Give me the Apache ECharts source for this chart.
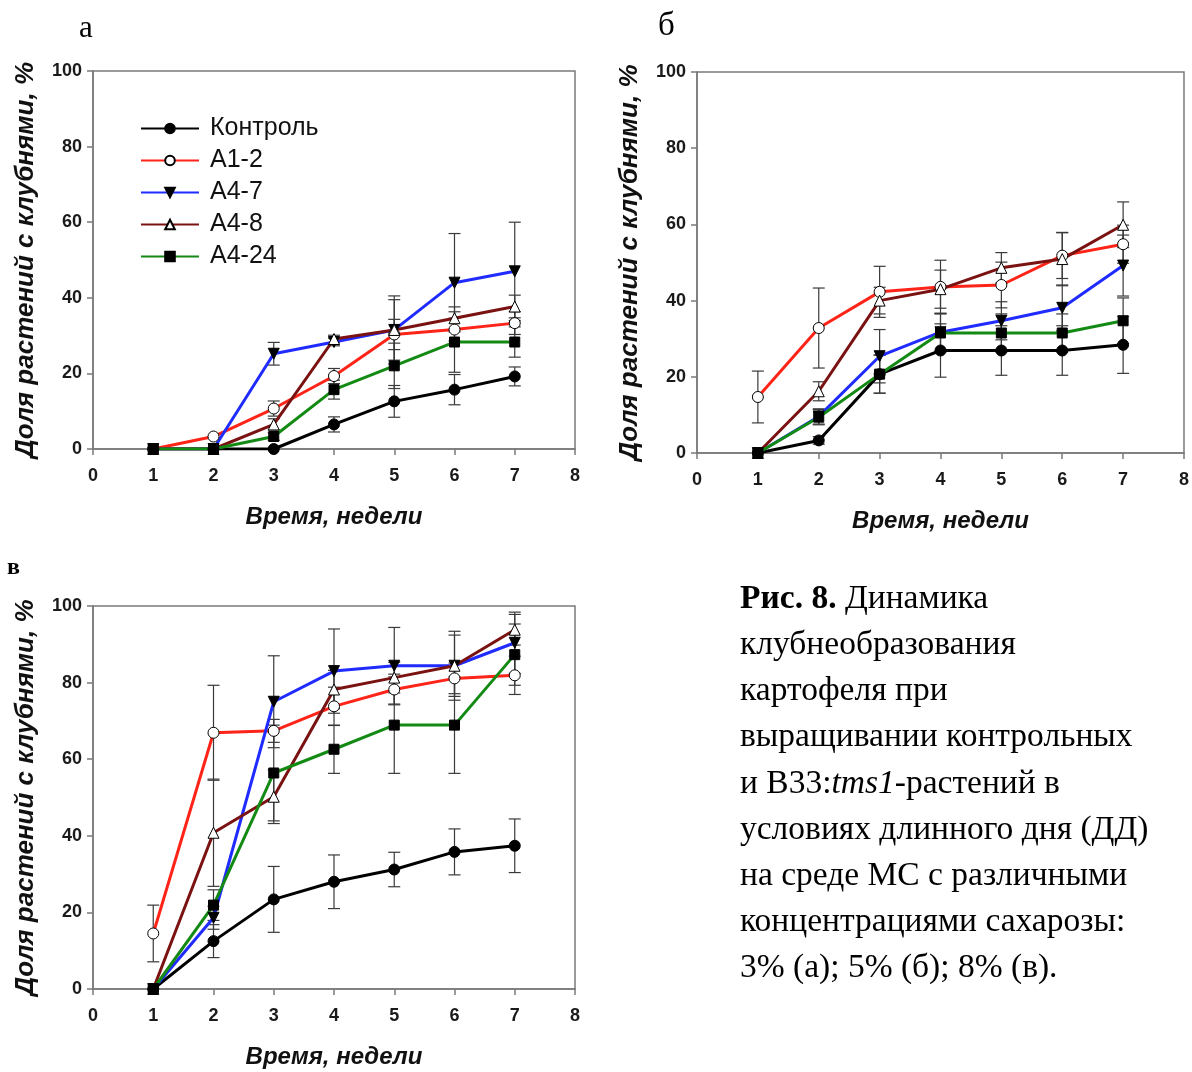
<!DOCTYPE html>
<html>
<head>
<meta charset="utf-8">
<title>Рис. 8</title>
<script src="https://cdn.jsdelivr.net/npm/echarts@6/dist/echarts.min.js"></script>
<style>
    html, body { margin: 0; padding: 0; background: #fff; }
    #chart { width: 1192px; height: 1072px; }
</style>
</head>
<body>
<div id="chart"></div>
<script>
// недели
const weeks = [1, 2, 3, 4, 5, 6, 7]
const xTicks = [0, 8, 1] // min, max, шаг
const yTicks = [0, 100, 20]
const lineNames = ['Контроль', 'А1-2', 'А4-7', 'А4-8', 'А4-24']

// (а) 3% сахарозы
const a_control = [0, 0, 0, 6.5, 12.6, 15.7, 19.2]
const a_a12 = [0, 3.3, 10.7, 19.3, 30.3, 31.6, 33.3]
const a_a47 = [0, 0, 25.2, 28.3, 31.5, 44.0, 47.0]
const a_a48 = [0, 0, 6.5, 29.1, 31.5, 34.6, 37.7]
const a_a424 = [0, 0, 3.3, 15.7, 22.0, 28.3, 28.3]
const a_err_control = [0, 0, 0, 2, 4.2, 4, 2.5]
const a_err_a12 = [0, 0, 2, 2, 4, 3, 3]
const a_err_a47 = [0, 0, 3, 1, 9, 13, 13]
const a_err_a48 = [0, 0, 1.5, 1, 8, 3, 3]
const a_err_a424 = [0, 0, 1, 2.5, 6, 8, 4]

// (б) 5% сахарозы
const b_control = [0, 3.3, 20.7, 26.9, 26.9, 26.9, 28.4]
const b_a12 = [14.7, 32.8, 42.3, 43.6, 44.1, 51.8, 54.8]
const b_a47 = [0, 9.6, 25.4, 31.7, 34.7, 38.1, 49.2]
const b_a48 = [0, 16.2, 40.0, 43.0, 48.6, 50.9, 59.9]
const b_a424 = [0, 9.4, 20.7, 31.5, 31.5, 31.5, 34.7]
const b_err_control = [0, 1, 5, 7, 6.5, 6.5, 7.5]
const b_err_a12 = [6.8, 10.5, 6.7, 7, 6, 6, 5]
const b_err_a47 = [0, 2, 7, 5, 5, 6, 8]
const b_err_a48 = [0, 2.5, 3.5, 5, 4, 7, 6]
const b_err_a424 = [0, 2, 5, 5, 5, 5, 6]

// (в) 8% сахарозы
const c_control = [0, 12.5, 23.4, 28.0, 31.2, 35.8, 37.4]
const c_a12 = [14.5, 66.9, 67.4, 73.8, 78.2, 81.1, 81.9]
const c_a47 = [0, 18.6, 75.0, 83.0, 84.4, 84.4, 90.4]
const c_a48 = [0, 40.8, 50.2, 78.2, 81.3, 84.4, 93.8]
const c_a424 = [0, 21.9, 56.4, 62.6, 68.9, 68.9, 87.3]
const c_err_control = [0, 4.3, 8.6, 7, 4.5, 6, 7]
const c_err_a12 = [7.4, 12.4, 3, 5, 4, 4, 5]
const c_err_a47 = [0, 3, 12, 11, 10, 9, 8]
const c_err_a48 = [0, 14, 7, 5, 4, 8, 4]
const c_err_a424 = [0, 4, 12.5, 6.3, 12.6, 12.6, 8]

const panels = [
    { values: [a_control, a_a12, a_a47, a_a48, a_a424], errors: [a_err_control, a_err_a12, a_err_a47, a_err_a48, a_err_a424] },
    { values: [b_control, b_a12, b_a47, b_a48, b_a424], errors: [b_err_control, b_err_a12, b_err_a47, b_err_a48, b_err_a424] },
    { values: [c_control, c_a12, c_a47, c_a48, c_a424], errors: [c_err_control, c_err_a12, c_err_a47, c_err_a48, c_err_a424] },
]

// стиль линий: цвет, маркер, заливка маркера
const lineStyles = [
    { color: '#000000', symbol: 'circle', fill: '#000000', rotate: 0 },
    { color: '#ff2418', symbol: 'circle', fill: '#ffffff', rotate: 0 },
    { color: '#1f2bff', symbol: 'triangle', fill: '#000000', rotate: 180 },
    { color: '#7a1212', symbol: 'triangle', fill: '#ffffff', rotate: 0 },
    { color: '#138a13', symbol: 'rect', fill: '#000000', rotate: 0 },
]

const grids = [
    { left: 93, top: 71, width: 482, height: 378 },
    { left: 697, top: 72, width: 492, height: 381 },
    { left: 93, top: 606, width: 482, height: 383 },
]

const axisColor = '#7a7a7a'
const labelFont = { fontFamily: 'Liberation Sans', fontWeight: 'bold', fontSize: 18, color: '#1a1a1a' }
const xNameFont = { fontFamily: 'Liberation Sans', fontWeight: 'bold', fontStyle: 'italic', fontSize: 24, color: '#111' }
const yNameFont = { fontFamily: 'Liberation Sans', fontWeight: 'bold', fontStyle: 'italic', fontSize: 26, color: '#111' }

/* усы погрешностей */
function renderErrorBar(params, api) {
    const err = api.value(2)
    if (!err) return null
    const top = api.coord([api.value(0), api.value(1) + err])
    const bottom = api.coord([api.value(0), api.value(1) - err])
    const half = 6
    const style = { stroke: '#3a3a3a', lineWidth: 1.2 }
    return {
        type: 'group',
        children: [
            { type: 'line', shape: { x1: top[0], y1: top[1], x2: bottom[0], y2: bottom[1] }, style },
            { type: 'line', shape: { x1: top[0] - half, y1: top[1], x2: top[0] + half, y2: top[1] }, style },
            { type: 'line', shape: { x1: bottom[0] - half, y1: bottom[1], x2: bottom[0] + half, y2: bottom[1] }, style },
        ],
    }
}

const xAxis = grids.map((g, i) => ({
    type: 'value',
    gridIndex: i,
    min: xTicks[0],
    max: xTicks[1],
    interval: xTicks[2],
    name: 'Время, недели',
    nameLocation: 'middle',
    nameGap: 56,
    nameTextStyle: xNameFont,
    axisLine: { lineStyle: { color: axisColor, width: 1.5 } },
    axisTick: { inside: false, length: 6, lineStyle: { color: axisColor, width: 1.5 } },
    axisLabel: Object.assign({ margin: 18 }, labelFont),
    splitLine: { show: false },
}))

const yAxis = grids.map((g, i) => ({
    type: 'value',
    gridIndex: i,
    min: yTicks[0],
    max: yTicks[1],
    interval: yTicks[2],
    name: 'Доля растений с клубнями, %',
    nameLocation: 'middle',
    nameGap: 54,
    nameTextStyle: yNameFont,
    axisLine: { lineStyle: { color: axisColor, width: 1.5 } },
    axisTick: { inside: false, length: 6, lineStyle: { color: axisColor, width: 1.5 } },
    axisLabel: Object.assign({ margin: 11 }, labelFont),
    splitLine: { show: false },
}))

const series = []
panels.forEach((panel, p) => {
    panel.values.forEach((vals, k) => {
        series.push({
            type: 'custom',
            name: 'err-' + p + '-' + k,
            xAxisIndex: p,
            yAxisIndex: p,
            renderItem: renderErrorBar,
            data: weeks.map((w, j) => [w, vals[j], panel.errors[k][j]]),
            z: 1,
            silent: true,
        })
    })
    panel.values.forEach((vals, k) => {
        const st = lineStyles[k]
        series.push({
            type: 'line',
            name: lineNames[k],
            xAxisIndex: p,
            yAxisIndex: p,
            data: weeks.map((w, j) => [w, vals[j]]),
            symbol: st.symbol,
            symbolRotate: st.rotate,
            symbolSize: st.symbol === 'rect' ? 10 : 11,
            showAllSymbol: true,
            lineStyle: { color: st.color, width: 3 },
            itemStyle: { color: st.fill, borderColor: '#000', borderWidth: 1 },
            z: 2,
            animation: false,
        })
    })
})

// подпись рисунка
const serif = 'Liberation Serif'
const captionLines = [
    '{b|Рис. 8.}{n| Динамика}',
    '{n|клубнеобразования}',
    '{n|картофеля при}',
    '{n|выращивании контрольных}',
    '{n|и В33:}{i|tms1}{n|-растений в}',
    '{n|условиях длинного дня (ДД)}',
    '{n|на среде МС с различными}',
    '{n|концентрациями сахарозы:}',
    '{n|3% (а); 5% (б); 8% (в).}',
]
const captionRich = {
    b: { fontFamily: serif, fontSize: 33.5, fontWeight: 'bold', fill: '#000' },
    n: { fontFamily: serif, fontSize: 33.5, fill: '#000' },
    i: { fontFamily: serif, fontSize: 33.5, fontStyle: 'italic', fill: '#000' },
}

const graphic = [
    { type: 'text', left: 79, top: 13, style: { text: 'а', font: '31px "Liberation Serif"', fill: '#000' } },
    { type: 'text', left: 658, top: 10, style: { text: 'б', font: '33px "Liberation Serif"', fill: '#000' } },
    { type: 'text', left: 7, top: 556, style: { text: 'в', font: 'bold 24px "Liberation Serif"', fill: '#000' } },
].concat(captionLines.map((txt, i) => ({
    type: 'text',
    x: 740,
    y: 599 + i * 46.2,
    style: { text: txt, rich: captionRich, verticalAlign: 'middle', align: 'left' },
})))

const option = {
    backgroundColor: '#fff',
    animation: false,
    grid: grids.map((g) => Object.assign({ show: true, borderColor: axisColor, borderWidth: 1.5, containLabel: false }, g)),
    xAxis,
    yAxis,
    legend: {
        data: lineNames,
        orient: 'vertical',
        left: 135,
        top: 111,
        itemWidth: 58,
        itemHeight: 12,
        itemGap: 7,
        selectedMode: false,
        textStyle: { fontFamily: 'Liberation Sans', fontSize: 25, color: '#111', padding: [0, 0, 0, 6] },
    },
    series,
    graphic,
}

const myChart = echarts.init(document.getElementById('chart'), null, { renderer: 'canvas' })
myChart.setOption(option)
</script>
</body>
</html>
